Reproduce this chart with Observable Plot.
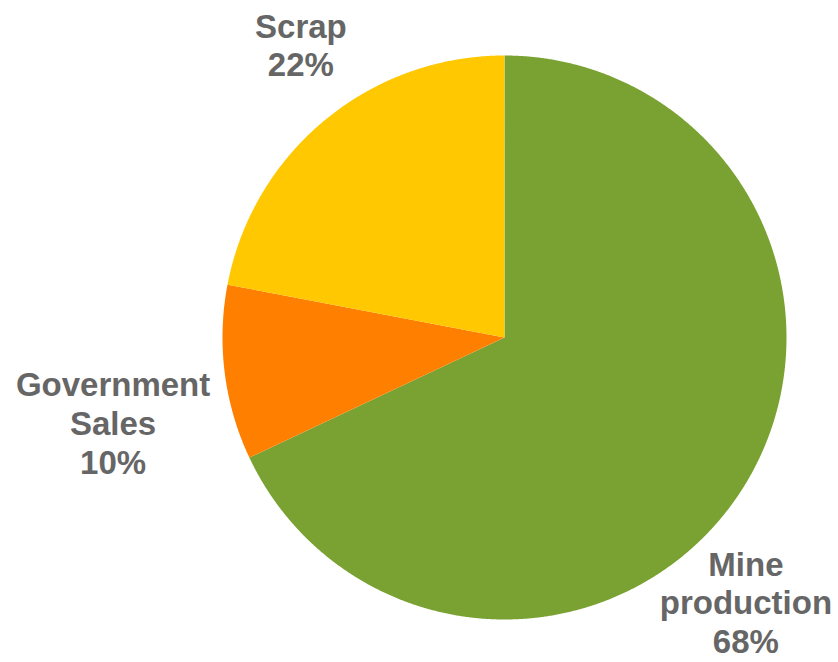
<!DOCTYPE html>
<html>
<head>
<meta charset="utf-8">
<script src="https://cdn.jsdelivr.net/npm/d3@7"></script>
<script src="https://cdn.jsdelivr.net/npm/@observablehq/plot@0.6"></script>
<style>
  html, body { margin: 0; padding: 0; background: #fff; }
</style>
</head>
<body>
<div id="chart"></div>
<script>
// Data
const categories = ["Mine production", "Government Sales", "Scrap"];
const shares = [68, 10, 22];
const labelLines = ["Mine\nproduction\n68%", "Government\nSales\n10%", "Scrap\n22%"];
const colors = ["#7AA232", "#FF8000", "#FFC800"];

// Layout (in pie-radius units, centre = 0,0)
const labelAnchors = [[0.856, -0.938], [-1.388, -0.301], [-0.722, 1.039]];

// Build slice polygons from the data via d3.pie
const pie = d3.pie().sort(null).value(d => d)(shares);
const slicePoints = [];
pie.forEach((a, i) => {
  slicePoints.push({cat: categories[i], x: 0, y: 0});
  const step = Math.PI / 720;
  for (let t = a.startAngle; t < a.endAngle; t += step) {
    slicePoints.push({cat: categories[i], x: Math.sin(t), y: Math.cos(t)});
  }
  slicePoints.push({cat: categories[i], x: Math.sin(a.endAngle), y: Math.cos(a.endAngle)});
  slicePoints.push({cat: categories[i], x: 0, y: 0});
});

const labels = categories.map((c, i) => ({cat: c, text: labelLines[i], x: labelAnchors[i][0], y: labelAnchors[i][1]}));

const cx = 504, cy = 337, r = 282;
const chart = Plot.plot({
  width: 838,
  height: 662,
  margin: 0,
  x: {domain: [-1, 1], range: [cx - r, cx + r], axis: null},
  y: {domain: [-1, 1], range: [cy + r, cy - r], axis: null},
  color: {domain: categories, range: colors},
  style: {fontFamily: "Arial, 'Liberation Sans', sans-serif"},
  marks: [
    Plot.line(slicePoints, {x: "x", y: "y", z: "cat", fill: "cat", stroke: "none", curve: "linear-closed"}),
    Plot.text(labels, {x: "x", y: "y", text: "text", fill: "#666666", fontSize: 33, fontWeight: "bold", lineHeight: 1.18, textAnchor: "middle"})
  ]
});
document.getElementById("chart").appendChild(chart);
</script>
</body>
</html>
